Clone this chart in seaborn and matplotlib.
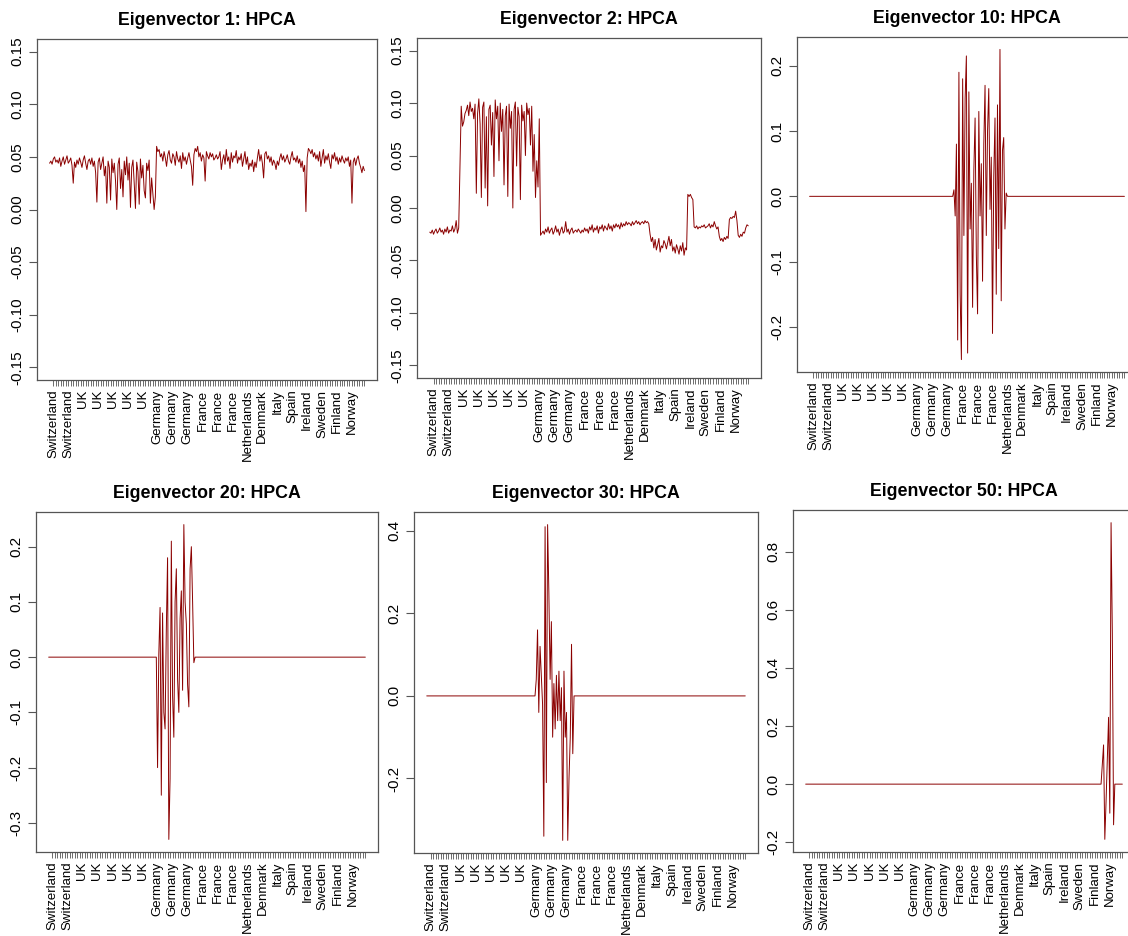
import numpy as np
import pandas as pd
import matplotlib
matplotlib.use("Agg")
import matplotlib.pyplot as plt
import seaborn as sns

# ---------------- data ----------------
N_STOCKS = 254

country_labels = ["Switzerland", "Switzerland", "UK", "UK", "UK", "UK", "UK",
                  "Germany", "Germany", "Germany", "France", "France", "France",
                  "Netherlands", "Denmark", "Italy", "Spain", "Ireland",
                  "Sweden", "Finland", "Norway"]

titles = ["Eigenvector 1: HPCA", "Eigenvector 2: HPCA", "Eigenvector 10: HPCA",
          "Eigenvector 20: HPCA", "Eigenvector 30: HPCA", "Eigenvector 50: HPCA"]

ev1 = [
    0.044, 0.046, 0.043, 0.048, 0.050, 0.045, 0.047, 0.044, 0.049, 0.041,
    0.046, 0.050, 0.043, 0.047, 0.051, 0.044, 0.046, 0.049, 0.042, 0.025,
    0.045, 0.040, 0.047, 0.043, 0.049, 0.045, 0.040, 0.047, 0.051, 0.044,
    0.038, 0.046, 0.048, 0.043, 0.049, 0.041, 0.046, 0.035, 0.007, 0.045,
    0.049, 0.038, 0.044, 0.050, 0.032, 0.041, 0.006, 0.046, 0.040, 0.009,
    0.048, 0.035, 0.044, 0.027, 0.000, 0.043, 0.049, 0.020, 0.038, 0.012,
    0.046, 0.033, 0.050, 0.028, 0.044, 0.002, 0.040, 0.047, 0.025, 0.001,
    0.045, 0.036, 0.005, 0.048, 0.030, 0.042, 0.018, 0.011, 0.044, 0.037,
    0.047, 0.006, 0.030, 0.015, 0.000, 0.012, 0.060, 0.055, 0.057, 0.050,
    0.053, 0.046, 0.055, 0.049, 0.041, 0.052, 0.056, 0.047, 0.044, 0.053,
    0.050, 0.042, 0.055, 0.048, 0.045, 0.051, 0.039, 0.054, 0.046, 0.050,
    0.043, 0.049, 0.054, 0.047, 0.041, 0.023, 0.052, 0.058, 0.055, 0.060,
    0.050, 0.054, 0.046, 0.052, 0.049, 0.027, 0.055, 0.051, 0.048, 0.054,
    0.050, 0.053, 0.047, 0.049, 0.052, 0.048, 0.050, 0.055, 0.038, 0.047,
    0.052, 0.043, 0.057, 0.046, 0.050, 0.039, 0.054, 0.045, 0.051, 0.049,
    0.056, 0.044, 0.050, 0.047, 0.053, 0.041, 0.048, 0.055, 0.043, 0.050,
    0.038, 0.044, 0.041, 0.047, 0.036, 0.045, 0.040, 0.049, 0.057, 0.046,
    0.052, 0.044, 0.030, 0.053, 0.055, 0.048, 0.051, 0.045, 0.050, 0.042,
    0.047, 0.044, 0.038, 0.046, 0.042, 0.049, 0.053, 0.047, 0.051, 0.045,
    0.048, 0.052, 0.046, 0.043, 0.050, 0.055, 0.047, 0.049, 0.045, 0.051,
    0.044, 0.048, 0.040, 0.046, 0.036, 0.042, -0.002, 0.049, 0.058, 0.056,
    0.053, 0.057, 0.050, 0.054, 0.048, 0.052, 0.046, 0.055, 0.041, 0.049,
    0.057, 0.044, 0.051, 0.047, 0.053, 0.045, 0.039, 0.052, 0.048, 0.054,
    0.046, 0.050, 0.043, 0.049, 0.045, 0.051, 0.047, 0.044, 0.049, 0.046,
    0.050, 0.041, 0.047, 0.006, 0.045, 0.049, 0.042, 0.048, 0.051, 0.044,
    0.040, 0.035, 0.041, 0.037,
]

ev2 = [
    -0.023, -0.024, -0.021, -0.025, -0.022, -0.020, -0.024, -0.022, -0.019, -0.023,
    -0.021, -0.025, -0.020, -0.023, -0.018, -0.024, -0.021, -0.022, -0.017, -0.023,
    -0.020, -0.012, -0.024, -0.019,
    0.040, 0.097, 0.078, 0.082, 0.090, 0.093,
    0.098, 0.088, 0.101, 0.092, 0.095, 0.085, 0.099, 0.014, 0.090, 0.104,
    0.080, 0.010, 0.096, 0.101, 0.019, 0.087, 0.002, 0.094, 0.098, 0.060,
    0.091, 0.030, 0.103, 0.085, 0.097, 0.045, 0.100, 0.073, 0.094, 0.022,
    0.088, 0.097, 0.011, 0.099, 0.076, 0.092, 0.000, 0.094, 0.101, 0.040,
    0.096, 0.087, 0.008, 0.098, 0.083, 0.092, 0.050, 0.100, 0.089, 0.095,
    0.060, 0.097, 0.035, 0.070, 0.010, 0.045, 0.020, 0.085,
    -0.026, -0.024, -0.022, -0.025, -0.020, -0.023, -0.018, -0.024, -0.021, -0.019, -0.025, -0.022,
    -0.017, -0.023, -0.020, -0.026, -0.021, -0.018, -0.024, -0.022, -0.013, -0.023,
    -0.020, -0.025, -0.021, -0.019, -0.024, -0.022, -0.021, -0.023, -0.020, -0.022,
    -0.024, -0.021, -0.023, -0.019, -0.022, -0.020, -0.024, -0.018, -0.021, -0.016,
    -0.023, -0.019, -0.021, -0.017, -0.024, -0.018, -0.020, -0.016, -0.022, -0.017,
    -0.019, -0.021, -0.015, -0.020, -0.017, -0.022, -0.016, -0.019, -0.015, -0.018,
    -0.016, -0.020, -0.014, -0.018, -0.015, -0.017, -0.013, -0.016, -0.014, -0.015,
    -0.017, -0.013, -0.016, -0.014, -0.012, -0.015, -0.013, -0.016, -0.014, -0.013,
    -0.015, -0.012, -0.014, -0.013, -0.015,
    -0.025, -0.032, -0.028, -0.038, -0.030, -0.040, -0.035, -0.029, -0.042, -0.036,
    -0.038, -0.031, -0.034, -0.039, -0.033, -0.027, -0.036, -0.030, -0.041, -0.037,
    -0.043, -0.035, -0.039, -0.044, -0.036, -0.041, -0.033, -0.045, -0.038, -0.040,
    0.013, 0.011, 0.013, 0.010, 0.008,
    -0.018, -0.019, -0.017, -0.020, -0.018, -0.019, -0.017, -0.018, -0.016, -0.019,
    -0.018, -0.017, -0.015, -0.019, -0.016, -0.018, -0.013, -0.017, -0.020, -0.018,
    -0.027, -0.031, -0.029, -0.032, -0.028, -0.030, -0.027, -0.029,
    -0.011, -0.009, -0.010, -0.008, -0.009, -0.003, -0.012,
    -0.026, -0.028, -0.025, -0.027, -0.023, -0.024, -0.019, -0.016, -0.017,
]

# sparse eigenvectors: zero everywhere except a block of stocks
ev10_start = 117
ev10_block = [0.010, -0.030, 0.080, -0.220, 0.190, -0.150, -0.250, 0.180, -0.060, 0.150,
              0.215, -0.240, 0.160, -0.050, 0.020, -0.170, 0.040, 0.120, -0.090, -0.180,
              0.130, -0.030, 0.050, -0.130, 0.080, 0.170, -0.060, 0.100, 0.165, -0.020,
              0.060, -0.210, 0.030, 0.120, -0.150, 0.140, -0.080, 0.225, -0.160, 0.070,
              0.090, -0.050, 0.005]

ev20_start = 88
ev20_block = [-0.200, 0.005, 0.090, -0.250, 0.080, -0.100, -0.130, 0.050, 0.180, -0.330,
              -0.220, 0.210, -0.070, -0.145, 0.100, 0.160, -0.040, -0.100, 0.070, 0.120,
              -0.060, 0.240, 0.100, 0.060, -0.050, -0.090, 0.160, 0.200, 0.100, -0.010]

ev30_start = 88
ev30_block = [0.040, 0.160, -0.040, 0.120, 0.050, -0.020, -0.340, 0.410, -0.210, 0.415,
              0.250, 0.040, 0.180, -0.100, 0.030, -0.080, 0.050, -0.060, 0.060, -0.060,
              0.020, -0.350, 0.060, -0.100, -0.040, -0.350, -0.200, -0.100, 0.125, -0.140]

ev50_start = 238
ev50_block = [0.070, 0.135, -0.190, -0.060, 0.090, 0.230, -0.100, 0.900, 0.520, -0.140]


def sparse(start, block):
    return [0.0] * (start - 1) + block + [0.0] * (N_STOCKS - (start - 1) - len(block))


series = [ev1, ev2, sparse(ev10_start, ev10_block), sparse(ev20_start, ev20_block),
          sparse(ev30_start, ev30_block), sparse(ev50_start, ev50_block)]

yticks = [
    [-0.15, -0.10, -0.05, 0.00, 0.05, 0.10, 0.15],
    [-0.15, -0.10, -0.05, 0.00, 0.05, 0.10, 0.15],
    [-0.2, -0.1, 0.0, 0.1, 0.2],
    [-0.3, -0.2, -0.1, 0.0, 0.1, 0.2],
    [-0.2, 0.0, 0.2, 0.4],
    [-0.2, 0.0, 0.2, 0.4, 0.6, 0.8],
]
ytick_fmt = ["{:.2f}", "{:.2f}", "{:.1f}", "{:.1f}", "{:.1f}", "{:.1f}"]
fixed_ylim = [(-0.15, 0.15), (-0.15, 0.15), None, None, None, None]

# ---------------- style ----------------
sns.set_theme(style="white")
plt.rcParams["font.family"] = ["Liberation Sans", "DejaVu Sans"]
plt.rcParams["text.color"] = "black"

W, H = 1128, 936
fig = plt.figure(figsize=(W / 100, H / 100), dpi=100)

# axes boxes in pixels: left, right, top, bottom (right column runs past the edge)
boxes = [(37, 377, 39, 380), (417, 761, 38, 378), (797, 1137, 37, 372),
         (36, 378, 512, 852), (414, 758, 512, 853), (793, 1135, 510, 852)]

tick_pos = np.arange(4, N_STOCKS + 1, 2)
tick_lab = [country_labels[i // 6] if i % 6 == 0 else "" for i in range(len(tick_pos))]

LINE = "#8B0000"
for k, (l, r, t, b) in enumerate(boxes):
    ax = fig.add_axes([l / W, 1 - b / H, (r - l) / W, (b - t) / H])
    vals = series[k]
    df = pd.DataFrame({"stock": np.arange(1, len(vals) + 1), "loading": vals})
    sns.lineplot(data=df, x="stock", y="loading", ax=ax, color=LINE,
                 linewidth=0.7, estimator=None, sort=False)
    n = len(vals)
    pad = 0.04 * (n - 1)
    ax.set_xlim(1 - pad, n + pad)
    if fixed_ylim[k] is not None:
        lo, hi = fixed_ylim[k]
    else:
        lo, hi = min(vals), max(vals)
    yp = 0.04 * (hi - lo)
    ax.set_ylim(lo - yp, hi + yp)

    ax.set_yticks(yticks[k])
    ax.set_yticklabels([ytick_fmt[k].format(v) for v in yticks[k]],
                       rotation=90, va="center", fontsize=11, color="black")
    ax.set_xticks(tick_pos)
    ax.set_xticklabels(tick_lab, rotation=90, fontsize=9.5, color="black")
    ax.tick_params(axis="y", direction="out", length=6, width=0.8, color="#555555",
                   pad=3, left=True)
    ax.tick_params(axis="x", direction="out", length=4, width=0.6, color="#555555",
                   pad=3, bottom=True)
    for s in ax.spines.values():
        s.set_visible(True)
        s.set_color("#555555")
        s.set_linewidth(0.9)
    ax.set_xlabel("")
    ax.set_ylabel("")
    ax.set_title(titles[k], fontsize=12.8, fontweight="bold", pad=10, color="black")

fig.savefig("out.png", dpi=100, facecolor="white")
